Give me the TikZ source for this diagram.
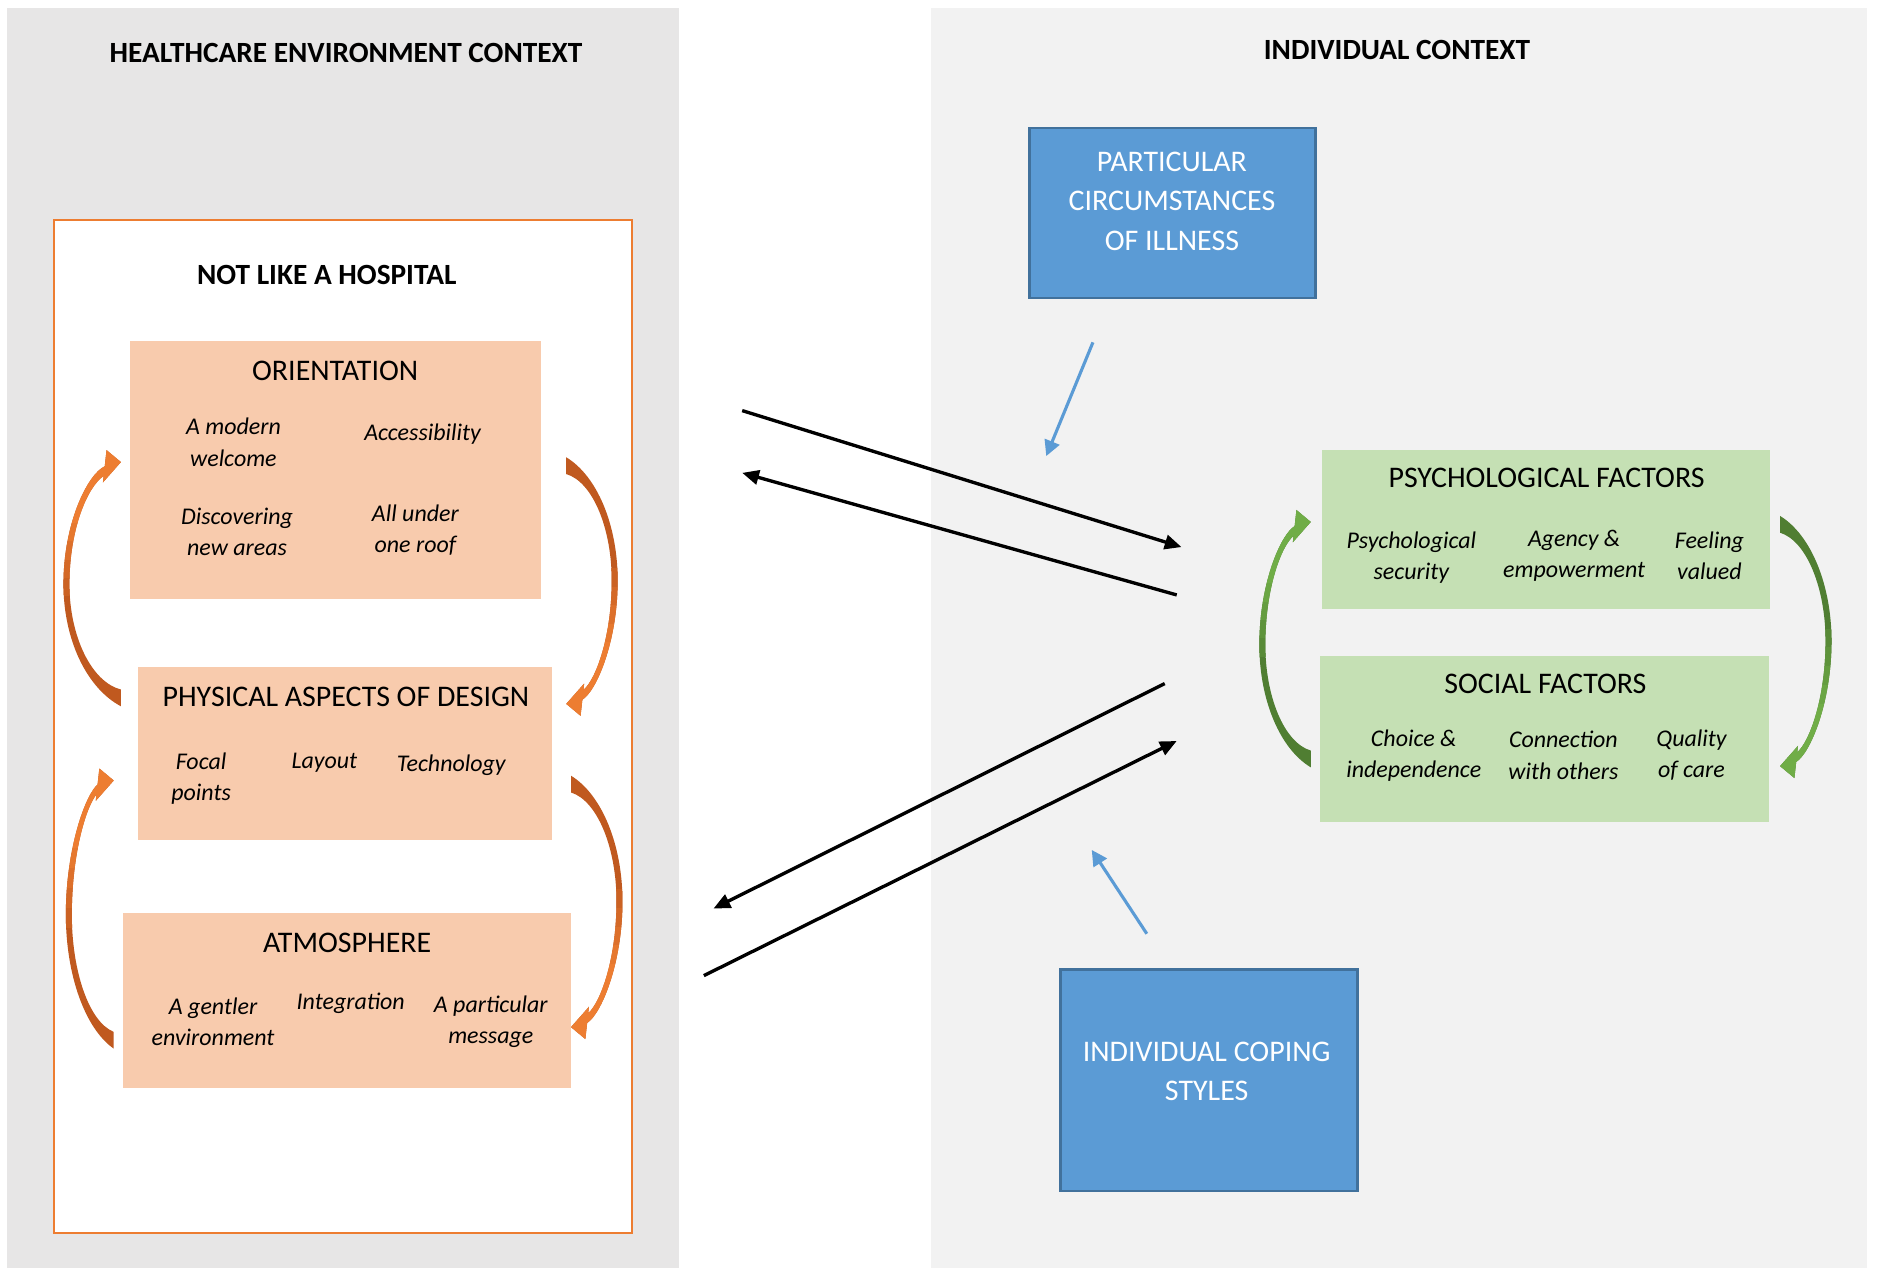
\documentclass[tikz,border=0pt]{standalone}
\usepackage{fontspec}
\setmainfont{Carlito}
\usetikzlibrary{arrows.meta}
\definecolor{panelL}{HTML}{E7E6E6}
\definecolor{panelR}{HTML}{F2F2F2}
\definecolor{frameO}{HTML}{ED7D31}
\definecolor{peach}{HTML}{F8CBAD}
\definecolor{boxblue}{HTML}{5B9BD5}
\definecolor{boxblueline}{HTML}{41719C}
\definecolor{boxgreen}{HTML}{C5E0B4}
\definecolor{arrOL}{HTML}{ED7D31}
\definecolor{arrOD}{HTML}{C0591F}
\definecolor{arrGL}{HTML}{70AD47}
\definecolor{arrGD}{HTML}{507E32}

\newcommand\fTitle{\fontsize{25}{30}\selectfont}
\newcommand\fHead{\fontsize{24.5}{29}\selectfont\bfseries}
\newcommand\fItem{\fontsize{20}{26}\selectfont\itshape}
\newcommand\fBlue{\fontsize{25}{33}\selectfont}

\newcommand\carrowpath{(0,\myH) .. controls (-0.6*\myW,0.85*\myH) and (-\myW,0.45*\myH) .. (-\myW,0) .. controls (-\myW,-0.5*\myH) and (-0.58*\myW,-0.9*\myH) .. (-13.5,-\myH+3.5) -- (-12,-\myH-10) -- (0,-\myH) -- (-15,-\myH+17) -- (-14.4,-\myH+11.6) .. controls (-0.58*\myW,-0.8*\myH) and (-\myW+5,-0.45*\myH) .. (-\myW+5,0) .. controls (-\myW+5,0.42*\myH) and (-0.52*\myW,0.8*\myH) .. (0,\myH-14) -- cycle}

% #1 x, #2 y, #3 half height, #4 bulge, #5 rotation, #6 light, #7 dark
\newcommand\carrow[7]{%
\begin{scope}[shift={(#1,#2)},rotate=#5]
\def\myH{#3}\def\myW{#4}
\fill[#7] \carrowpath;
\begin{scope}
\clip \carrowpath;
\fill[#6!25!#7] (-80,0.1*\myH) rectangle (20,-0.05*\myH);
\fill[#6!45!#7] (-80,-0.05*\myH) rectangle (20,-0.2*\myH);
\fill[#6!65!#7] (-80,-0.2*\myH) rectangle (20,-0.35*\myH);
\fill[#6!85!#7] (-80,-0.35*\myH) rectangle (20,-0.5*\myH);
\fill[#6] (-80,-0.5*\myH) rectangle (20,-\myH-25);
\end{scope}
\end{scope}}

\begin{document}
\begin{tikzpicture}[x=1pt,y=-1pt,
  rbox/.style={inner sep=0pt,outer sep=0pt,draw=none},
  peachbox/.style={rbox,fill=peach},
  greenbox/.style={rbox,fill=boxgreen},
  bluebox/.style={inner sep=0pt,outer sep=0pt,fill=boxblue,draw=boxblueline,line width=2pt},
  ttl/.style={font=\fTitle,inner sep=0pt},
  hd/.style={font=\fHead,inner sep=0pt},
  itm/.style={font=\fItem,align=center,inner sep=0pt},
  btxt/.style={font=\fBlue,align=center,inner sep=0pt,text=white},
  blk/.style={line width=2.8pt,-{Triangle[length=14pt,width=12pt]}},
  bluearr/.style={line width=2.6pt,draw=boxblue,-{Triangle[length=13pt,width=13pt]}}]

\useasboundingbox (0,0) rectangle (1568,1060);
\fill[white] (0,0) rectangle (1568,1060);

% panels
\node[rbox,fill=panelL,minimum width=561pt,minimum height=1052pt] (hpanel) at (286.5,533) {};
\node[rbox,fill=panelR,minimum width=782pt,minimum height=1052pt] (ipanel) at (1169,533) {};
\node[hd] (hhead) at (289,44) {HEALTHCARE ENVIRONMENT CONTEXT};
\node[hd] (ihead) at (1167,42) {INDIVIDUAL CONTEXT};

% frame
\node[inner sep=0pt,fill=white,draw=frameO,line width=2pt,minimum width=483pt,minimum height=846pt] (frame) at (286.5,607) {};
\node[hd] (nlah) at (273,230) {NOT LIKE A HOSPITAL};

% orientation
\node[peachbox,minimum width=343pt,minimum height=215pt] (orient) at (280.5,392.5) {};
\node[ttl] (orientT) at (280,310) {ORIENTATION};
\node[itm] (o1) at (195,369.5) {A modern\\welcome};
\node[itm] (o2) at (353,363) {Accessibility};
\node[itm] (o3) at (198,444.5) {Discovering\\new areas};
\node[itm] (o4) at (347,442.5) {All under\\one roof};

% physical
\node[peachbox,minimum width=346pt,minimum height=145pt] (phys) at (288,629.5) {};
\node[ttl] (physT) at (289,582) {PHYSICAL ASPECTS OF DESIGN};
\node[itm] (p1) at (168,650.5) {Focal\\points};
\node[itm] (p2) at (271,637) {Layout};
\node[itm] (p3) at (377,639) {Technology};

% atmosphere
\node[peachbox,minimum width=374pt,minimum height=146pt] (atmo) at (290,836) {};
\node[ttl] (atmoT) at (290,788) {ATMOSPHERE};
\node[itm] (t1) at (178,853.5) {A gentler\\environment};
\node[itm] (t2) at (293,838) {Integration};
\node[itm] (t3) at (410,853.5) {A particular\\message};

% psychological
\node[greenbox,minimum width=375pt,minimum height=133pt] (psy) at (1291.5,442.5) {};
\node[ttl] (psyT) at (1292,399) {PSYCHOLOGICAL FACTORS};
\node[itm] (s1) at (1179,465.5) {Psychological\\security};
\node[itm] (s2) at (1315,464) {Agency \&\\empowerment};
\node[itm] (s3) at (1428,464) {Feeling\\valued};

% social
\node[greenbox,minimum width=375pt,minimum height=139pt] (soc) at (1290.5,617.5) {};
\node[ttl] (socT) at (1291,571) {SOCIAL FACTORS};
\node[itm] (c1) at (1181,631) {Choice \&\\independence};
\node[itm] (c2) at (1306,631) {Connection\\with others};
\node[itm] (c3) at (1413,631) {Quality\\of care};

% blue boxes
\node[bluebox,minimum width=239pt,minimum height=142pt] (ill) at (979.5,178) {};
\node[btxt] (illT) at (979,168) {PARTICULAR\\CIRCUMSTANCES\\OF ILLNESS};
\node[bluebox,minimum width=248pt,minimum height=185pt] (cop) at (1010,902.5) {};
\node[btxt] (copT) at (1008,895) {INDIVIDUAL COPING\\STYLES};

% black arrows
\coordinate (a1s) at (620,343); \coordinate (a1e) at (987,457);
\coordinate (a2s) at (983,497); \coordinate (a2e) at (620,395);
\coordinate (a3s) at (973,571); \coordinate (a3e) at (596,759);
\coordinate (a4s) at (588,815); \coordinate (a4e) at (983,619);
\draw[blk] (a1s) -- (a1e);
\draw[blk] (a2s) -- (a2e);
\draw[blk] (a3s) -- (a3e);
\draw[blk] (a4s) -- (a4e);

% blue arrows
\coordinate (b1s) at (913,286); \coordinate (b1e) at (874,381);
\coordinate (b2s) at (958,780); \coordinate (b2e) at (912,710);
\draw[bluearr] (b1s) -- (b1e);
\draw[bluearr] (b2s) -- (b2e);

% curved block arrows
\carrow{101}{488}{102}{48}{0}{arrOL}{arrOD}
\carrow{473}{485}{103}{43}{180}{arrOL}{arrOD}
\carrow{95}{764}{112}{40}{0}{arrOL}{arrOD}
\carrow{477}{753}{105}{43}{180}{arrOL}{arrOD}
\carrow{1095}{538.5}{102.5}{43}{0}{arrGL}{arrGD}
\carrow{1487}{535.5}{104.5}{43}{180}{arrGL}{arrGD}

\end{tikzpicture}
\end{document}
